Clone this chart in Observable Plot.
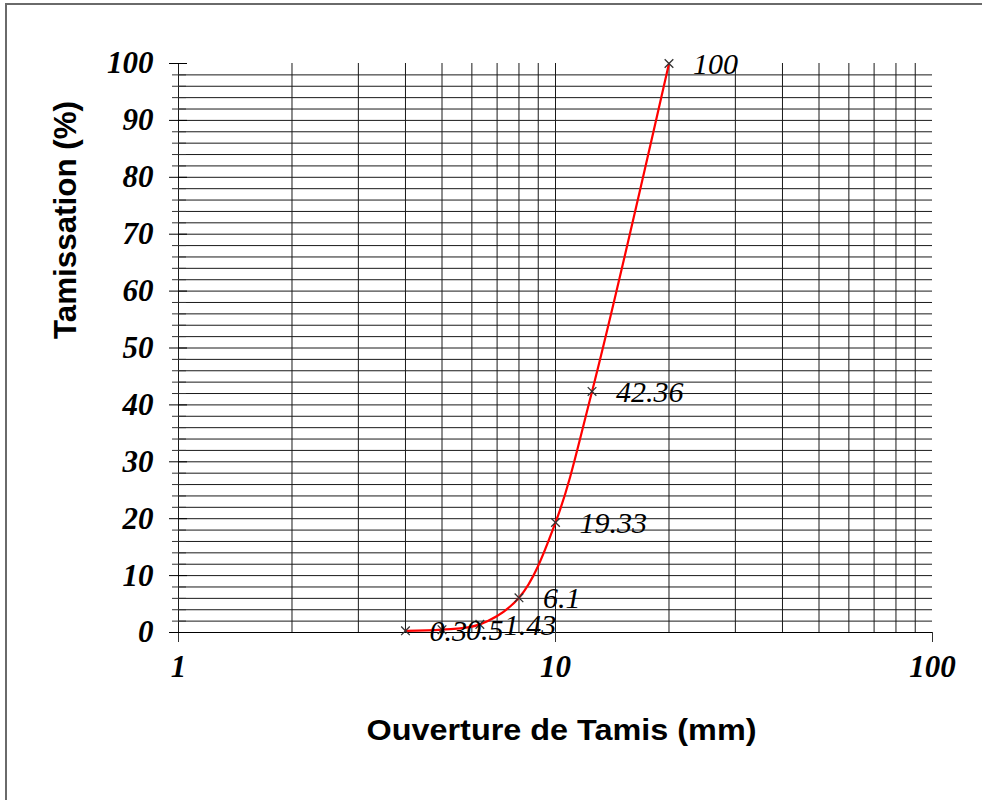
<!DOCTYPE html>
<html>
<head>
<meta charset="utf-8">
<script src="https://cdn.jsdelivr.net/npm/d3@7"></script>
<script src="https://cdn.jsdelivr.net/npm/@observablehq/plot@0.6"></script>
<style>
  html, body { margin: 0; padding: 0; background: #fff; }
  #wrap { position: relative; width: 982px; height: 800px; overflow: hidden; }
  #box { position: absolute; left: 5px; top: 3px; width: 990px; height: 810px;
         border-left: 2px solid #6a6a6a; border-top: 2px solid #6a6a6a; }
  #chart { position: absolute; left: 0; top: 0; }
</style>
</head>
<body>
<div id="wrap"><div id="box"></div><div id="chart"></div></div>
<script>
// Sieve openings (mm) and cumulative passing (%)
const opening = [4, 5, 6.3, 8, 10, 12.5, 20];
const passing = [0.3, 0.5, 1.43, 6.1, 19.33, 42.36, 100];

// Axis ticks and grid
const xTickLabels = [1, 10, 100];
const xGrid = [1, 2, 3, 4, 5, 6, 7, 8, 9, 10, 20, 30, 40, 50, 60, 70, 80, 90];
const yTickLabels = [0, 10, 20, 30, 40, 50, 60, 70, 80, 90, 100];
const yGrid = d3.range(2, 100, 2);
const yMinor = d3.range(0, 101, 2).filter(v => v % 10 !== 0);

const xTitle = "Ouverture de Tamis (mm)";
const yTitle = "Tamissation (%)";

const points = opening.map((x, i) => ({x, y: passing[i]}));

const serifBI = {fontFamily: "'Liberation Serif', 'Times New Roman', serif", fontWeight: "bold", fontStyle: "italic", fontSize: 31};
const sansB = {fontFamily: "'Liberation Sans', Arial, sans-serif", fontWeight: "bold", fill: "#000"};

const chart = Plot.plot({
  width: 982,
  height: 800,
  marginLeft: 178,
  marginRight: 50,
  marginTop: 63,
  marginBottom: 168,
  x: {type: "log", domain: [1, 100]},
  y: {domain: [0, 100]},
  style: {background: "transparent", overflow: "visible"},
  marks: [
    // grid
    Plot.ruleY(yGrid, {x1: 1, x2: 100, stroke: "#1a1a1a", strokeWidth: 1}),
    Plot.ruleX(xGrid, {y1: 0, y2: 100, stroke: "#1a1a1a", strokeWidth: 1}),
    // axis lines and tick marks
    Plot.ruleY([0], {x1: 1, x2: 100, insetLeft: -9, stroke: "#000", strokeWidth: 1}),
    Plot.ruleX(xTickLabels, {y1: 0, y2: 0, insetBottom: -10, stroke: "#333", strokeWidth: 1}),
    Plot.ruleY(yTickLabels, {x1: 1, x2: 1, insetLeft: -9, insetRight: -9, stroke: "#000", strokeWidth: 1}),
    Plot.ruleY(yMinor, {x1: 1, x2: 1, insetLeft: -6, insetRight: -8, stroke: "#333", strokeWidth: 1}),
    // tick labels
    Plot.axisY({ticks: yTickLabels, tickSize: 0, tickPadding: 25, tickFormat: d => String(d), label: null, ...serifBI}),
    Plot.axisX({ticks: xTickLabels, tickSize: 0, tickPadding: 22, tickFormat: d => String(d), label: null, ...serifBI}),
    // axis titles
    Plot.text([yTitle], {frameAnchor: "left", rotate: -90, dx: -112, dy: -9, fontSize: 31, className: "ytitle", ...sansB}),
    Plot.text([xTitle], {frameAnchor: "bottom", dy: 107, dx: 6, fontSize: 30, className: "xtitle", ...sansB}),
    // grading curve
    Plot.line(points, {x: "x", y: "y", stroke: "#ff0000", strokeWidth: 2.2, curve: "catmull-rom"}),
    Plot.dot(points, {x: "x", y: "y", symbol: "times", r: 4, stroke: "#333", strokeWidth: 1.3}),
    Plot.text(points, {x: "x", y: "y", text: d => String(d.y), dx: 24, dy: 1, textAnchor: "start",
      fontFamily: "'Liberation Serif', 'Times New Roman', serif", fontStyle: "italic", fontSize: 30, fill: "#000"})
  ]
});

// stretch the axis titles to their drawn length
chart.querySelectorAll("g.xtitle text").forEach(t => { t.setAttribute("textLength", 390); t.setAttribute("lengthAdjust", "spacingAndGlyphs"); });
chart.querySelectorAll("g.ytitle text").forEach(t => { t.setAttribute("textLength", 238); t.setAttribute("lengthAdjust", "spacingAndGlyphs"); });

document.getElementById("chart").appendChild(chart);
</script>
</body>
</html>
